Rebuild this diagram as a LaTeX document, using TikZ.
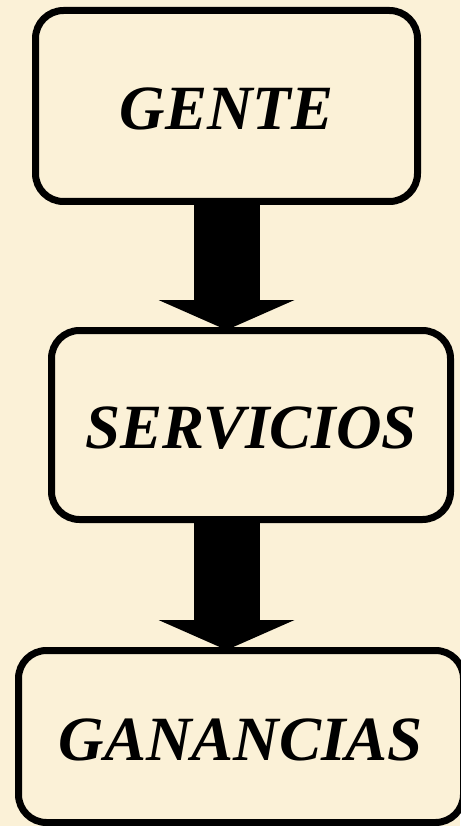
\documentclass[tikz,border=0pt]{standalone}
\usepackage{fontspec}
\setmainfont{Liberation Serif}
\usetikzlibrary{arrows.meta}
\definecolor{pergamino}{RGB}{251,241,215}
\tikzset{
  caja/.style={draw, line width=7pt, rounded corners=28pt, inner sep=0pt,
    text height=47pt, text depth=0pt,
    font=\fontsize{63}{63}\selectfont\bfseries\itshape},
  flecha/.style={line width=66pt, shorten >=-3pt,
    -{Triangle[width=136pt,length=30pt,line width=0pt]}}
}
\begin{document}
\begin{tikzpicture}[x=1pt,y=-1pt]
\fill[pergamino] (0,0) rectangle (460,826);
\useasboundingbox (0,0) rectangle (460,826);
\node[caja, minimum width=382pt, minimum height=191pt] (gente) at (226.5,106) {GENTE};
\node[caja, minimum width=399pt, minimum height=189pt] (servicios) at (251,425) {SERVICIOS};
\node[caja, minimum width=445pt, minimum height=172pt] (ganancias) at (241,736.5) {GANANCIAS};
\draw[flecha] (gente.south) -- (servicios.north -| gente.south);
\draw[flecha] (servicios.south -| gente.south) -- (ganancias.north -| gente.south);
\end{tikzpicture}
\end{document}
